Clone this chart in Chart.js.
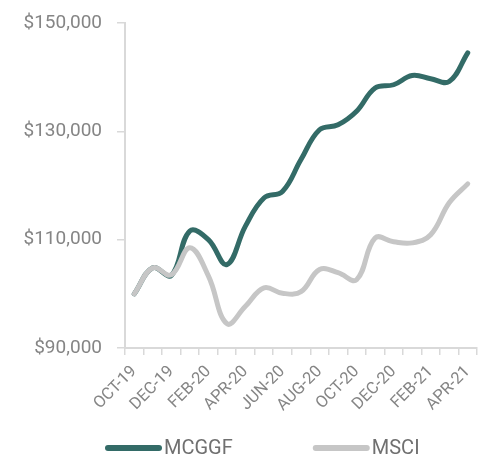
<!DOCTYPE html>
<html>
<head>
<meta charset="utf-8">
<script src="https://cdn.jsdelivr.net/npm/chart.js@4"></script>
<style>
  html, body { margin: 0; padding: 0; background: #fff; }
  #wrap { width: 482px; height: 456px; }
</style>
</head>
<body>
<div id="wrap"><canvas id="lineChart"></canvas></div>
<script>
const months = ['OCT-19', 'NOV-19', 'DEC-19', 'JAN-20', 'FEB-20', 'MAR-20', 'APR-20', 'MAY-20',
  'JUN-20', 'JUL-20', 'AUG-20', 'SEP-20', 'OCT-20', 'NOV-20', 'DEC-20', 'JAN-21', 'FEB-21',
  'MAR-21', 'APR-21'];
const mcggf = [100000, 104800, 103400, 111600, 110000, 105400, 112500, 117700, 118900, 124800,
  130300, 131200, 133700, 138000, 138600, 140300, 139700, 139200, 144500];
const msci = [100000, 104800, 103500, 108500, 103300, 94500, 97700, 101100, 100100, 100400,
  104500, 103900, 102600, 110300, 109600, 109400, 110900, 116800, 120300];
const yTicks = [90000, 110000, 130000, 150000];

const axisGrey = '#d9d9d9';
const textGrey = '#858585';

// simple legend drawn under the chart (line swatch + name)
const bottomLegend = {
  id: 'bottomLegend',
  afterDraw(chart) {
    const ctx = chart.ctx;
    ctx.save();
    ctx.font = '400 20px Roboto';
    ctx.textBaseline = 'middle';
    let x = 105;
    const y = 448;
    chart.data.datasets.forEach(ds => {
      ctx.strokeStyle = ds.borderColor;
      ctx.lineWidth = 6;
      ctx.lineCap = 'round';
      ctx.beginPath();
      ctx.moveTo(x + 3, y);
      ctx.lineTo(x + 54, y);
      ctx.stroke();
      ctx.fillStyle = '#707070';
      ctx.fillText(ds.label, x + 59, y + 1);
      x += 59 + ctx.measureText(ds.label).width + 80;
    });
    ctx.restore();
  }
};

const ctx = document.getElementById('lineChart');
new Chart(ctx, {
  type: 'line',
  data: {
    labels: months,
    datasets: [
      {
        label: 'MCGGF',
        data: mcggf,
        borderColor: '#336b67',
        backgroundColor: '#336b67',
        borderWidth: 5,
        pointRadius: 0,
        tension: 0.4,
        borderCapStyle: 'round',
        order: 1
      },
      {
        label: 'MSCI',
        data: msci,
        borderColor: '#c6c6c6',
        backgroundColor: '#c6c6c6',
        borderWidth: 5,
        pointRadius: 0,
        tension: 0.4,
        borderCapStyle: 'round',
        order: 0
      }
    ]
  },
  options: {
    responsive: true,
    maintainAspectRatio: false,
    animation: false,
    layout: { padding: { top: 23, right: 5, bottom: 30, left: 0 } },
    plugins: {
      legend: { display: false },
      tooltip: { enabled: false }
    },
    scales: {
      x: {
        offset: true,
        grid: { offset: true, drawOnChartArea: false, color: axisGrey, tickLength: 7, lineWidth: 1.5 },
        border: { color: axisGrey, width: 2 },
        ticks: {
          autoSkip: false,
          maxRotation: 45,
          minRotation: 45,
          padding: 7,
          color: textGrey,
          font: { family: 'Roboto', size: 16.5, weight: '400' },
          callback: function(value, index) {
            return index % 2 === 0 ? months[index] : '';
          }
        },
        afterFit: function(scale) {
          scale.height = 78;
          scale.paddingRight = 0;
          scale.paddingLeft = 0;
        }
      },
      y: {
        min: 90000,
        max: 150000,
        afterBuildTicks: function(scale) { scale.ticks = yTicks.map(v => ({ value: v })); },
        grid: { drawOnChartArea: false, color: axisGrey, tickLength: 8, lineWidth: 1.5 },
        border: { color: axisGrey, width: 2 },
        ticks: {
          padding: 15,
          color: textGrey,
          font: { family: 'Roboto', size: 19, weight: '400' },
          callback: function(value) { return '$' + value.toLocaleString('en-US'); }
        },
        afterFit: function(scale) {
          scale.width = 125;
          scale.paddingTop = 0;
          scale.paddingBottom = 0;
        }
      }
    }
  },
  plugins: [bottomLegend]
});
</script>
</body>
</html>
